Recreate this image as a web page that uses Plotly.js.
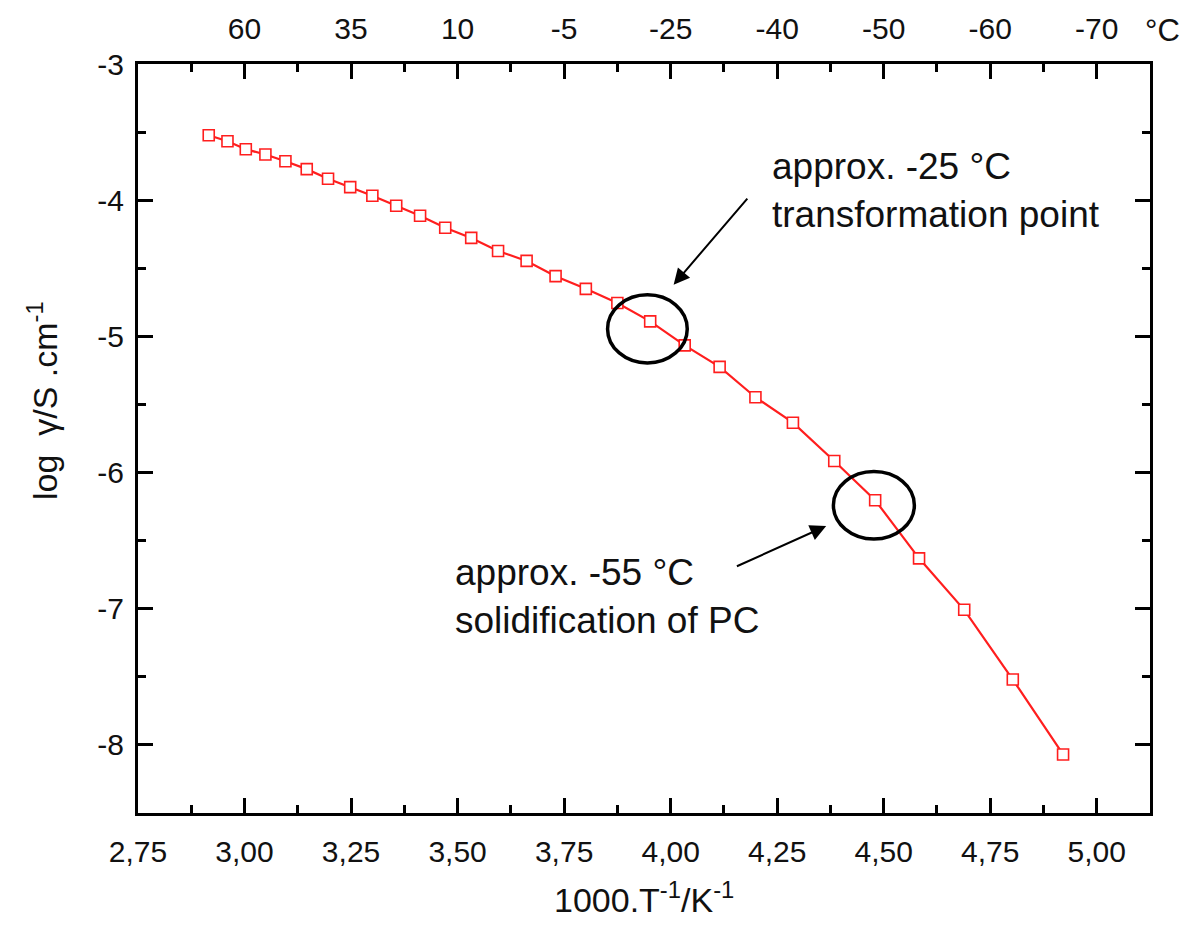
<!DOCTYPE html>
<html>
<head>
<meta charset="utf-8">
<script src="https://cdn.plot.ly/plotly-3.0.1.min.js"></script>
<style>html,body{margin:0;padding:0;background:#fff;}#chart{width:1187px;height:926px;}</style>
</head>
<body>
<div id="chart"></div>
<script>
// 1000/T in K^-1
var invT = [2.916, 2.960, 3.003, 3.049, 3.096, 3.146, 3.196, 3.248, 3.300, 3.356,
            3.412, 3.471, 3.532, 3.595, 3.662, 3.730, 3.801, 3.875, 3.952, 4.033,
            4.115, 4.199, 4.287, 4.384, 4.480, 4.583, 4.689, 4.803, 4.921];
// log conductivity
var logGamma = [-3.523, -3.567, -3.626, -3.665, -3.714, -3.772, -3.843, -3.904, -3.968, -4.041,
                -4.114, -4.202, -4.277, -4.373, -4.446, -4.558, -4.651, -4.755, -4.890, -5.066,
                -5.224, -5.447, -5.634, -5.915, -6.203, -6.630, -7.008, -7.520, -8.070];

var bottomTickVals = [2.75, 3.00, 3.25, 3.50, 3.75, 4.00, 4.25, 4.50, 4.75, 5.00];
var bottomTickText = ['2,75', '3,00', '3,25', '3,50', '3,75', '4,00', '4,25', '4,50', '4,75', '5,00'];
var topTickVals = [3.00, 3.25, 3.50, 3.75, 4.00, 4.25, 4.50, 4.75, 5.00];
var topTickText = ['60', '35', '10', '-5', '-25', '-40', '-50', '-60', '-70'];
var yTickVals = [-8, -7, -6, -5, -4, -3];
var yTickText = ['-8', '-7', '-6', '-5', '-4', '-3'];

var FONT = 'Liberation Sans, Arial, sans-serif';
var xr = [2.75, 5.125];
var yr = [-8.5, -3];

var trace = {
  x: invT, y: logGamma, type: 'scatter', mode: 'lines+markers',
  line: {color: 'rgb(255,30,30)', width: 2.2},
  marker: {symbol: 'square', size: 11, color: 'white', line: {color: 'rgb(255,30,30)', width: 1.6}},
  showlegend: false, hoverinfo: 'skip'
};
var dummyTop = {x: xr, y: yr, xaxis: 'x2', yaxis: 'y', mode: 'markers', marker: {opacity: 0}, showlegend: false, hoverinfo: 'skip'};

var axisCommon = {
  showgrid: false, zeroline: false, showline: true, linecolor: 'black', linewidth: 3,
  ticks: 'inside', ticklen: 15, tickwidth: 3, tickcolor: 'black',
  tickfont: {family: FONT, size: 30, color: '#111'}
};

var layout = {
  width: 1187, height: 926,
  margin: {l: 138, r: 37, t: 64, b: 113, pad: 0},
  paper_bgcolor: 'white', plot_bgcolor: 'white',
  xaxis: Object.assign({}, axisCommon, {
    range: xr, tickmode: 'array', tickvals: bottomTickVals, ticktext: bottomTickText,
    mirror: false, ticklabelstandoff: 10,
    minor: {tick0: 2.875, dtick: 0.25, ticks: 'inside', ticklen: 8, tickwidth: 3, tickcolor: 'black'}
  }),
  xaxis2: Object.assign({}, axisCommon, {
    range: xr, overlaying: 'x', side: 'top', anchor: 'y', tickmode: 'array',
    tickvals: topTickVals, ticktext: topTickText, ticklabelstandoff: 10,
    minor: {tick0: 2.875, dtick: 0.25, ticks: 'inside', ticklen: 8, tickwidth: 3, tickcolor: 'black'}
  }),
  yaxis: Object.assign({}, axisCommon, {
    range: yr, tickmode: 'array', tickvals: yTickVals, ticktext: yTickText,
    mirror: 'ticks', ticklabelstandoff: 5,
    minor: {tick0: -8.5, dtick: 1, ticks: 'inside', ticklen: 8, tickwidth: 3, tickcolor: 'black'}
  }),
  shapes: [
    {type: 'circle', xref: 'x', yref: 'y', x0: 3.852, x1: 4.039, y0: -5.195, y1: -4.695, line: {color: 'black', width: 3.5}},
    {type: 'circle', xref: 'x', yref: 'y', x0: 4.382, x1: 4.572, y0: -6.488, y1: -5.993, line: {color: 'black', width: 3.5}}
  ],
  annotations: [
    {xref: 'x', yref: 'y', x: 4.007, y: -4.621, ax: 4.183, ay: -3.977, axref: 'x', ayref: 'y',
     text: '', showarrow: true, arrowhead: 2, arrowsize: 1.6, arrowwidth: 2, arrowcolor: 'black'},
    {xref: 'x', yref: 'y', x: 4.365, y: -6.393, ax: 4.152, ay: -6.693, axref: 'x', ayref: 'y',
     text: '', showarrow: true, arrowhead: 2, arrowsize: 1.6, arrowwidth: 2, arrowcolor: 'black'},
    {xref: 'x', yref: 'y', x: 4.234, y: -3.926, xanchor: 'left', yanchor: 'middle', align: 'left',
     text: 'approx. -25 °C<br>transformation point', showarrow: false,
     font: {family: FONT, size: 37, color: '#111'}},
    {xref: 'x', yref: 'y', x: 3.489, y: -6.913, xanchor: 'left', yanchor: 'middle', align: 'left',
     text: 'approx. -55 °C<br>solidification of PC', showarrow: false,
     font: {family: FONT, size: 37, color: '#111'}},
    {xref: 'paper', yref: 'paper', x: 1.0, y: 1.0, xshift: 12, yshift: 34, xanchor: 'center', yanchor: 'middle',
     text: '°C', showarrow: false, font: {family: FONT, size: 31, color: '#111'}},
    {xref: 'paper', yref: 'paper', x: 0.5, y: 0, yshift: -84, xanchor: 'center', yanchor: 'middle',
     text: '1000.T<sup>-1</sup>/K<sup>-1</sup>', showarrow: false, font: {family: FONT, size: 34, color: '#111'}},
    {xref: 'paper', yref: 'paper', x: 0, xshift: -96, y: 0.55, xanchor: 'center', yanchor: 'middle', textangle: -90,
     text: 'log  γ/S .cm<sup>-1</sup>', showarrow: false, font: {family: FONT, size: 34, color: '#111'}}
  ]
};

Plotly.newPlot('chart', [trace, dummyTop], layout, {staticPlot: true, displayModeBar: false});
</script>
</body>
</html>
